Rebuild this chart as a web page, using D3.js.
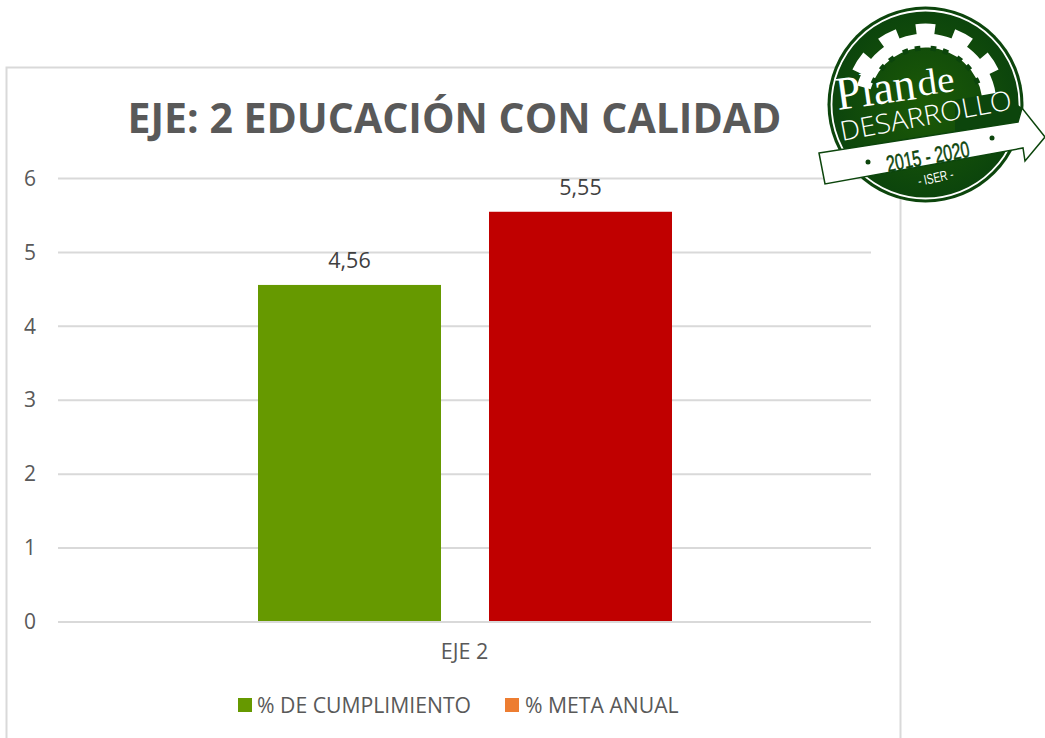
<!DOCTYPE html>
<html><head><meta charset="utf-8">
<script src="https://cdn.jsdelivr.net/npm/d3@7"></script>
<style>html,body{margin:0;background:#fff}svg{display:block}text{font-family:"Open Sans",sans-serif}</style>
</head><body><svg id="c" width="1045" height="738"></svg>
<script>
const title = "EJE: 2 EDUCACIÓN CON CALIDAD";
const categories = ["EJE 2"];
const seriesNames = ["% DE CUMPLIMIENTO", "% META ANUAL"];
const barValues = [4.56, 5.55];
const barLabels = ["4,56", "5,55"];
const barColors = ["#669900", "#C00000"];
const legendColors = ["#669900", "#ED7D31"];
const yTicks = [0, 1, 2, 3, 4, 5, 6];

const svg = d3.select("#c");
svg.append("rect").attr("x",6.5).attr("y",67.5).attr("width",894).attr("height",700)
  .attr("fill","#fff").attr("stroke","#D9D9D9").attr("stroke-width",2);

const y = d3.scaleLinear().domain([0,6]).range([622,178.5]);
const x = d3.scaleBand().domain(categories).range([58,871]);
const xs = d3.scaleBand().domain(seriesNames).range([258,672]).paddingInner(48/231);

svg.append("g").selectAll("line").data(yTicks).join("line")
  .attr("x1",58).attr("x2",871).attr("y1",d=>y(d)).attr("y2",d=>y(d))
  .attr("stroke","#D9D9D9").attr("stroke-width",2);

const yAxis = d3.axisLeft(y).tickValues(yTicks).tickFormat(d3.format("d")).tickSize(0).tickPadding(0);
const ga = svg.append("g").attr("transform","translate(36,0)").call(yAxis);
ga.select(".domain").remove();
ga.selectAll("text").attr("font-size",21).attr("fill","#595959");

svg.selectAll("rect.bar").data(barValues).join("rect").attr("class","bar")
  .attr("x",(d,i)=>xs(seriesNames[i])).attr("width",xs.bandwidth())
  .attr("y",d=>y(d)).attr("height",d=>y(0)-1-y(d)).attr("fill",(d,i)=>barColors[i]);
svg.selectAll("text.lab").data(barValues).join("text").attr("class","lab")
  .attr("x",(d,i)=>xs(seriesNames[i])+xs.bandwidth()/2).attr("y",d=>y(d)-17)
  .attr("text-anchor","middle").attr("font-size",21.5).attr("fill","#404040")
  .text((d,i)=>barLabels[i]);

svg.append("text").attr("x",x(categories[0])+x.bandwidth()/2).attr("y",659)
  .attr("text-anchor","middle").attr("font-size",21.5).attr("fill","#595959").text(categories[0]);

svg.append("text").attr("x",454.5).attr("y",133).attr("text-anchor","middle")
  .attr("font-size",41).attr("font-weight",700).attr("fill","#595959").text(title);

const legendX = [238, 505], legendTextX=[257,525];
seriesNames.forEach((n,i)=>{
  svg.append("rect").attr("x",legendX[i]).attr("y",698).attr("width",14).attr("height",14).attr("fill",legendColors[i]);
  svg.append("text").attr("x",legendTextX[i]).attr("y",712.5).attr("font-size",21.2).attr("fill","#595959").text(n);
});

// logo
const DARK = "#0C450C";
const logo = svg.append("g");
const gr = svg.append("defs").append("radialGradient").attr("id","lg");
gr.append("stop").attr("offset","0%").attr("stop-color","#1C5A06");
gr.append("stop").attr("offset","100%").attr("stop-color",DARK);
const cx=925.5, cy=104.5;
const c = logo.append("g").attr("transform",`translate(${cx},${cy})`);
const arc = d3.arc();
c.append("circle").attr("r",98).attr("fill",DARK);
c.append("circle").attr("r",94).attr("fill","none").attr("stroke","#fff").attr("stroke-width",1.8);
c.append("circle").attr("r",92).attr("fill","url(#lg)");
c.append("path").attr("d",arc({innerRadius:57,outerRadius:71,startAngle:-1.3,endAngle:1.42})).attr("fill","#fff");
const teeth = [-1.0,-0.5,0,0.5,1.0];
teeth.forEach(a=>{
  c.append("path").attr("d",arc({innerRadius:69,outerRadius:81,startAngle:a-0.125,endAngle:a+0.125})).attr("fill","#fff");
});
[-1.14,-0.86,-0.64,-0.36,-0.14,0.14,0.36,0.64,0.86,1.14].forEach(a=>{
  c.append("path").attr("d",arc({innerRadius:54,outerRadius:59,startAngle:a-0.05,endAngle:a+0.05})).attr("fill",DARK);
});
// dark band behind the lettering on the right
logo.append("path").attr("d","M1001 92 L1022 108 L1018 124 L955 134 L955 100 Z").attr("fill",DARK);
// ribbon
logo.append("path").attr("d","M819 153 L1018 122 L1022 108 L1045 137 L1025 161 L1023 148 L825 184 Z")
  .attr("fill","#fff").attr("stroke",DARK).attr("stroke-width",1.5).attr("stroke-linejoin","miter");
const serif = "'Liberation Serif',serif";
logo.append("text").attr("transform","translate(838,110) rotate(-8)").attr("font-size",47)
  .attr("textLength",80).attr("lengthAdjust","spacingAndGlyphs").attr("fill","#fff").style("font-family",serif).text("Plan");
logo.append("text").attr("transform","translate(919,96) rotate(-8)").attr("font-size",37)
  .attr("textLength",37).attr("lengthAdjust","spacingAndGlyphs").attr("fill","#fff").style("font-family",serif).text("de");
logo.append("text").attr("transform","translate(842,141) rotate(-10.6)").attr("font-size",27).attr("font-weight",300)
  .attr("textLength",174).attr("lengthAdjust","spacingAndGlyphs").attr("fill","#fff").text("DESARROLLO");
logo.append("text").attr("transform","translate(888,172) rotate(-10.5)").attr("font-size",23).attr("font-weight",400)
  .attr("textLength",84).attr("lengthAdjust","spacingAndGlyphs").attr("fill",DARK).attr("stroke",DARK).attr("stroke-width",0.5)
  .style("font-family","'Liberation Sans Narrow','Liberation Sans',sans-serif").text("2015 - 2020");
logo.append("circle").attr("cx",868).attr("cy",162).attr("r",2.5).attr("fill",DARK);
logo.append("circle").attr("cx",992).attr("cy",138).attr("r",2.5).attr("fill",DARK);
logo.append("text").attr("transform","translate(919,186) rotate(-12)").attr("font-size",14)
  .attr("textLength",36).attr("lengthAdjust","spacingAndGlyphs").attr("fill","#fff")
  .style("font-family","'Liberation Sans Narrow','Liberation Sans',sans-serif").text("- ISER -");
</script></body></html>
